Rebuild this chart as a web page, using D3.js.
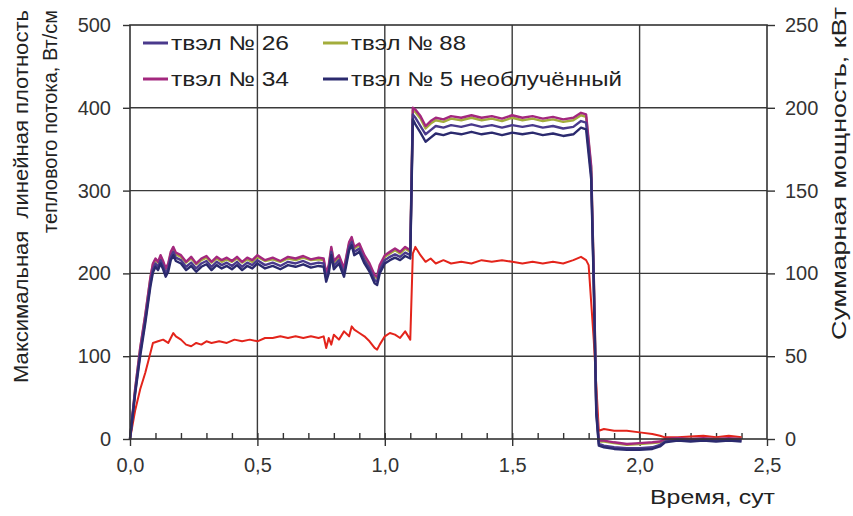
<!DOCTYPE html>
<html>
<head>
<meta charset="utf-8">
<script src="https://cdn.jsdelivr.net/npm/d3@7"></script>
<style>
  body { margin: 0; background: #fff; }
  svg { font-family: "Liberation Sans", Arial, sans-serif; }
  .axis text { font-size: 20px; fill: #333; }
  .axis line { stroke: #333; stroke-width: 1.4; }
  .axis .domain { display: none; }
  .grid line { stroke: #3a3a3a; stroke-width: 1.4; }
  .line { fill: none; stroke-linejoin: round; }
  .title { white-space: pre; }
</style>
</head>
<body>
<div id="chart"></div>
<script>
// Data
const rodTimes = [
  0.00, 0.02, 0.04, 0.06, 0.08, 0.09, 0.10, 0.11, 0.12, 0.13,
  0.14, 0.15, 0.16, 0.17, 0.18, 0.20, 0.22, 0.24, 0.26, 0.28,
  0.30, 0.32, 0.34, 0.36, 0.38, 0.40, 0.42, 0.44, 0.46, 0.48,
  0.50, 0.53, 0.56, 0.59, 0.62, 0.65, 0.68, 0.71, 0.74, 0.76,
  0.77, 0.78, 0.79, 0.80, 0.82, 0.84, 0.86, 0.87, 0.88, 0.90,
  0.92, 0.94, 0.96, 0.97, 0.98, 1.00, 1.02, 1.04, 1.06, 1.08,
  1.10, 1.11, 1.12, 1.14, 1.16, 1.18, 1.20, 1.23, 1.26, 1.30,
  1.34, 1.38, 1.42, 1.46, 1.50, 1.54, 1.58, 1.62, 1.66, 1.70,
  1.74, 1.77, 1.79, 1.81, 1.82, 1.83, 1.84, 1.86, 1.90, 1.95,
  2.00, 2.05, 2.08, 2.10, 2.15, 2.20, 2.25, 2.30, 2.35, 2.40
];
const rod34 = [
  0, 60, 110, 150, 195, 212, 218, 214, 222, 215,
  206, 212, 226, 232, 225, 222, 214, 220, 212, 218,
  221, 214, 220, 216, 219, 215, 220, 214, 219, 216,
  222, 216, 219, 215, 220, 218, 221, 217, 219, 218,
  200, 210, 232, 215, 222, 206, 238, 244, 232, 236,
  222, 212, 198, 196, 210, 222, 226, 230, 226, 232,
  228, 400, 398, 390, 378, 384, 388, 386, 390, 388,
  391, 388, 390, 387, 391, 388, 390, 387, 389, 386,
  388, 394, 392, 330, 200, 40, -2, -2, -4, -6,
  -5, -4, -3, 0, 1, 0, 1, 0, 1, 0
];
const rod88 = [
  0, 59, 109, 149, 194, 211, 216, 213, 220, 213,
  205, 210, 224, 230, 223, 220, 213, 218, 211, 216,
  219, 213, 218, 214, 217, 214, 218, 213, 217, 214,
  220, 215, 217, 214, 218, 216, 219, 216, 217, 216,
  198, 208, 230, 213, 220, 205, 236, 242, 230, 234,
  220, 210, 196, 194, 208, 220, 224, 228, 224, 230,
  226, 397, 395, 387, 375, 381, 385, 383, 387, 385,
  388, 385, 387, 384, 388, 385, 387, 384, 386, 383,
  385, 391, 389, 327, 198, 39, -3, -3, -5, -7,
  -6, -5, -4, -1, 0, 0, 0, 0, 0, 0
];
const rod26 = [
  0, 56, 104, 144, 188, 205, 212, 208, 216, 209,
  200, 206, 220, 226, 219, 216, 208, 213, 206, 212,
  215, 208, 214, 210, 213, 209, 214, 208, 213, 210,
  216, 210, 213, 209, 214, 212, 215, 211, 213, 212,
  194, 204, 226, 209, 216, 200, 232, 238, 226, 230,
  216, 206, 192, 190, 204, 216, 220, 223, 220, 225,
  222, 392, 388, 378, 368, 373, 378, 376, 379, 377,
  380, 377, 379, 376, 379, 377, 379, 376, 378, 375,
  377, 384, 382, 320, 192, 34, -6, -8, -10, -11,
  -11, -10, -7, -3, -1, -2, -1, -2, -1, -2
];
const rod5 = [
  0, 54, 100, 140, 184, 201, 208, 204, 212, 205,
  196, 202, 216, 222, 215, 212, 204, 209, 202, 208,
  211, 204, 210, 206, 209, 205, 210, 204, 209, 206,
  212, 206, 209, 205, 210, 208, 211, 207, 209, 208,
  190, 200, 222, 205, 212, 196, 228, 234, 222, 226,
  212, 202, 188, 186, 200, 212, 216, 219, 216, 221,
  218, 386, 380, 370, 359, 364, 369, 367, 370, 368,
  371, 368, 370, 367, 370, 368, 370, 367, 369, 366,
  368, 376, 374, 314, 186, 30, -8, -10, -12, -13,
  -13, -12, -9, -4, -2, -3, -2, -3, -2, -3
];

const powerTimes = [
  0.00, 0.02, 0.04, 0.06, 0.08, 0.09, 0.11, 0.13, 0.15, 0.17,
  0.18, 0.20, 0.22, 0.24, 0.26, 0.28, 0.30, 0.32, 0.35, 0.38,
  0.41, 0.44, 0.47, 0.50, 0.53, 0.56, 0.59, 0.62, 0.65, 0.68,
  0.71, 0.74, 0.76, 0.77, 0.78, 0.79, 0.80, 0.82, 0.84, 0.86,
  0.87, 0.88, 0.90, 0.92, 0.94, 0.96, 0.97, 0.98, 1.00, 1.02,
  1.04, 1.06, 1.08, 1.10, 1.11, 1.12, 1.14, 1.16, 1.18, 1.20,
  1.23, 1.26, 1.30, 1.34, 1.38, 1.42, 1.46, 1.50, 1.54, 1.58,
  1.62, 1.66, 1.70, 1.74, 1.77, 1.79, 1.80, 1.82, 1.84, 1.86,
  1.90, 1.95, 2.00, 2.05, 2.08, 2.10, 2.15, 2.20, 2.25, 2.30,
  2.35, 2.40
];
const powerKW = [
  0, 17, 30, 40, 52, 58, 59, 60, 58, 64,
  62, 60, 57, 56, 58, 57, 59, 58, 59, 58,
  60, 59, 60, 59, 61, 61, 62, 61, 62, 61,
  62, 61, 62, 55, 61, 57, 63, 60, 65, 62,
  68, 66, 64, 62, 59, 55, 54, 57, 62, 64,
  63, 61, 65, 60, 112, 116, 111, 107, 109, 106,
  108, 106, 107, 106, 108, 107, 108, 107, 106, 107,
  106, 107, 106, 108, 110, 108, 105, 60, 5, 6,
  5, 5, 4, 3, 2, 1, 1, 1.5, 2, 1,
  2, 1
];

const rodSeries = [
  { name: "твэл № 88", values: rod88, color: "#a3ad3c" },
  { name: "твэл № 34", values: rod34, color: "#a3287e" },
  { name: "твэл № 26", values: rod26, color: "#4a3a8c" },
  { name: "твэл № 5 необлучённый", values: rod5, color: "#2b2a6e" },
];
const legendOrder = ["твэл № 26", "твэл № 88", "твэл № 34", "твэл № 5 необлучённый"];
const legendWidths = [118, 115, 118, 271];
const powerColor = "#e3241b";

const xTicks = [0, 0.5, 1, 1.5, 2, 2.5];
const yLeftTicks = [0, 100, 200, 300, 400, 500];
const yRightTicks = [0, 50, 100, 150, 200, 250];

// Layout
const svgWidth = 853, svgHeight = 516;
const margin = { top: 25, right: 86, bottom: 77, left: 130 };
const width = svgWidth - margin.left - margin.right;
const height = svgHeight - margin.top - margin.bottom;

const svg = d3.select("#chart").append("svg")
  .attr("width", svgWidth).attr("height", svgHeight);
const g = svg.append("g").attr("transform", `translate(${margin.left},${margin.top})`);

// Scales
const xScale = d3.scaleLinear().domain([0, 2.5]).range([0, width]);
const yLeft = d3.scaleLinear().domain([0, 500]).range([height, 0]);
const yRight = d3.scaleLinear().domain([0, 250]).range([height, 0]);

// Grid
const grid = g.append("g").attr("class", "grid");
grid.selectAll(".gx").data(xTicks.slice(1, -1)).join("line")
  .attr("x1", d => xScale(d)).attr("x2", d => xScale(d))
  .attr("y1", 0).attr("y2", height);
grid.selectAll(".gy").data(yLeftTicks.slice(1, -1)).join("line")
  .attr("class", "gy")
  .attr("y1", d => yLeft(d)).attr("y2", d => yLeft(d))
  .attr("x1", 0).attr("x2", width);

// Minor x ticks (inside)
g.append("g").attr("class", "axis")
  .attr("transform", `translate(0,${height})`)
  .call(d3.axisTop(xScale).tickValues(d3.range(1, 25).map(d => d / 10)).tickSize(6).tickFormat(""));

// Axes
g.append("g").attr("class", "axis")
  .attr("transform", `translate(0,${height})`)
  .call(d3.axisBottom(xScale).tickValues(xTicks).tickSize(7).tickPadding(12)
    .tickFormat(d => d3.format(".1f")(d).replace(".", ",")));
g.append("g").attr("class", "axis")
  .call(d3.axisLeft(yLeft).tickValues(yLeftTicks).tickSize(7).tickPadding(12));
g.append("g").attr("class", "axis")
  .attr("transform", `translate(${width},0)`)
  .call(d3.axisRight(yRight).tickValues(yRightTicks).tickSize(8).tickPadding(10));

// Lines
const gLines = g.append("g");
const rodLine = d3.line().x(d => xScale(d[0])).y(d => yLeft(d[1]));
const powerLine = d3.line().x(d => xScale(d[0])).y(d => yRight(d[1]));

gLines.append("path").attr("class", "line")
  .attr("stroke", powerColor).attr("stroke-width", 2)
  .attr("d", powerLine(d3.zip(powerTimes, powerKW)));

gLines.selectAll(".rod").data(rodSeries).join("path")
  .attr("class", "line rod")
  .attr("stroke", d => d.color).attr("stroke-width", 2.4)
  .attr("d", d => rodLine(d3.zip(rodTimes, d.values)));

// Frame
g.append("rect").attr("width", width).attr("height", height)
  .attr("fill", "none").attr("stroke", "#333").attr("stroke-width", 1.6);

// Legend
const legendX = [13, 193], legendY = [18, 54];
const item = g.append("g").attr("class", "legend")
  .selectAll("g").data(legendOrder).join("g")
  .attr("transform", (d, i) => `translate(${legendX[i % 2]},${legendY[Math.floor(i / 2)]})`);
item.append("line")
  .attr("x1", 0).attr("x2", 25)
  .attr("stroke", d => rodSeries.find(s => s.name === d).color)
  .attr("stroke-width", 3);
item.append("text")
  .attr("x", 28).attr("dy", "0.36em")
  .style("font-size", "20px").attr("fill", "#222")
  .attr("textLength", (d, i) => legendWidths[i])
  .attr("lengthAdjust", "spacingAndGlyphs")
  .text(d => d);

// Axis titles
function title(text, x, y, len, rotate) {
  return svg.append("text").attr("class", "title")
    .attr("transform", `translate(${x},${y})` + (rotate ? " rotate(-90)" : ""))
    .attr("text-anchor", "end").style("font-size", "20px").attr("fill", "#222")
    .attr("textLength", len).attr("lengthAdjust", "spacingAndGlyphs")
    .text(text);
}
title("Максимальная  линейная плотность", 28, 10, 373, true);
title("теплового потока, Вт/см", 57, 10, 223, true);
title("Суммарная мощность, кВт", 846, 7, 333, true);
title("Время, сут", 775, 504, 125, false);
</script>
</body>
</html>
